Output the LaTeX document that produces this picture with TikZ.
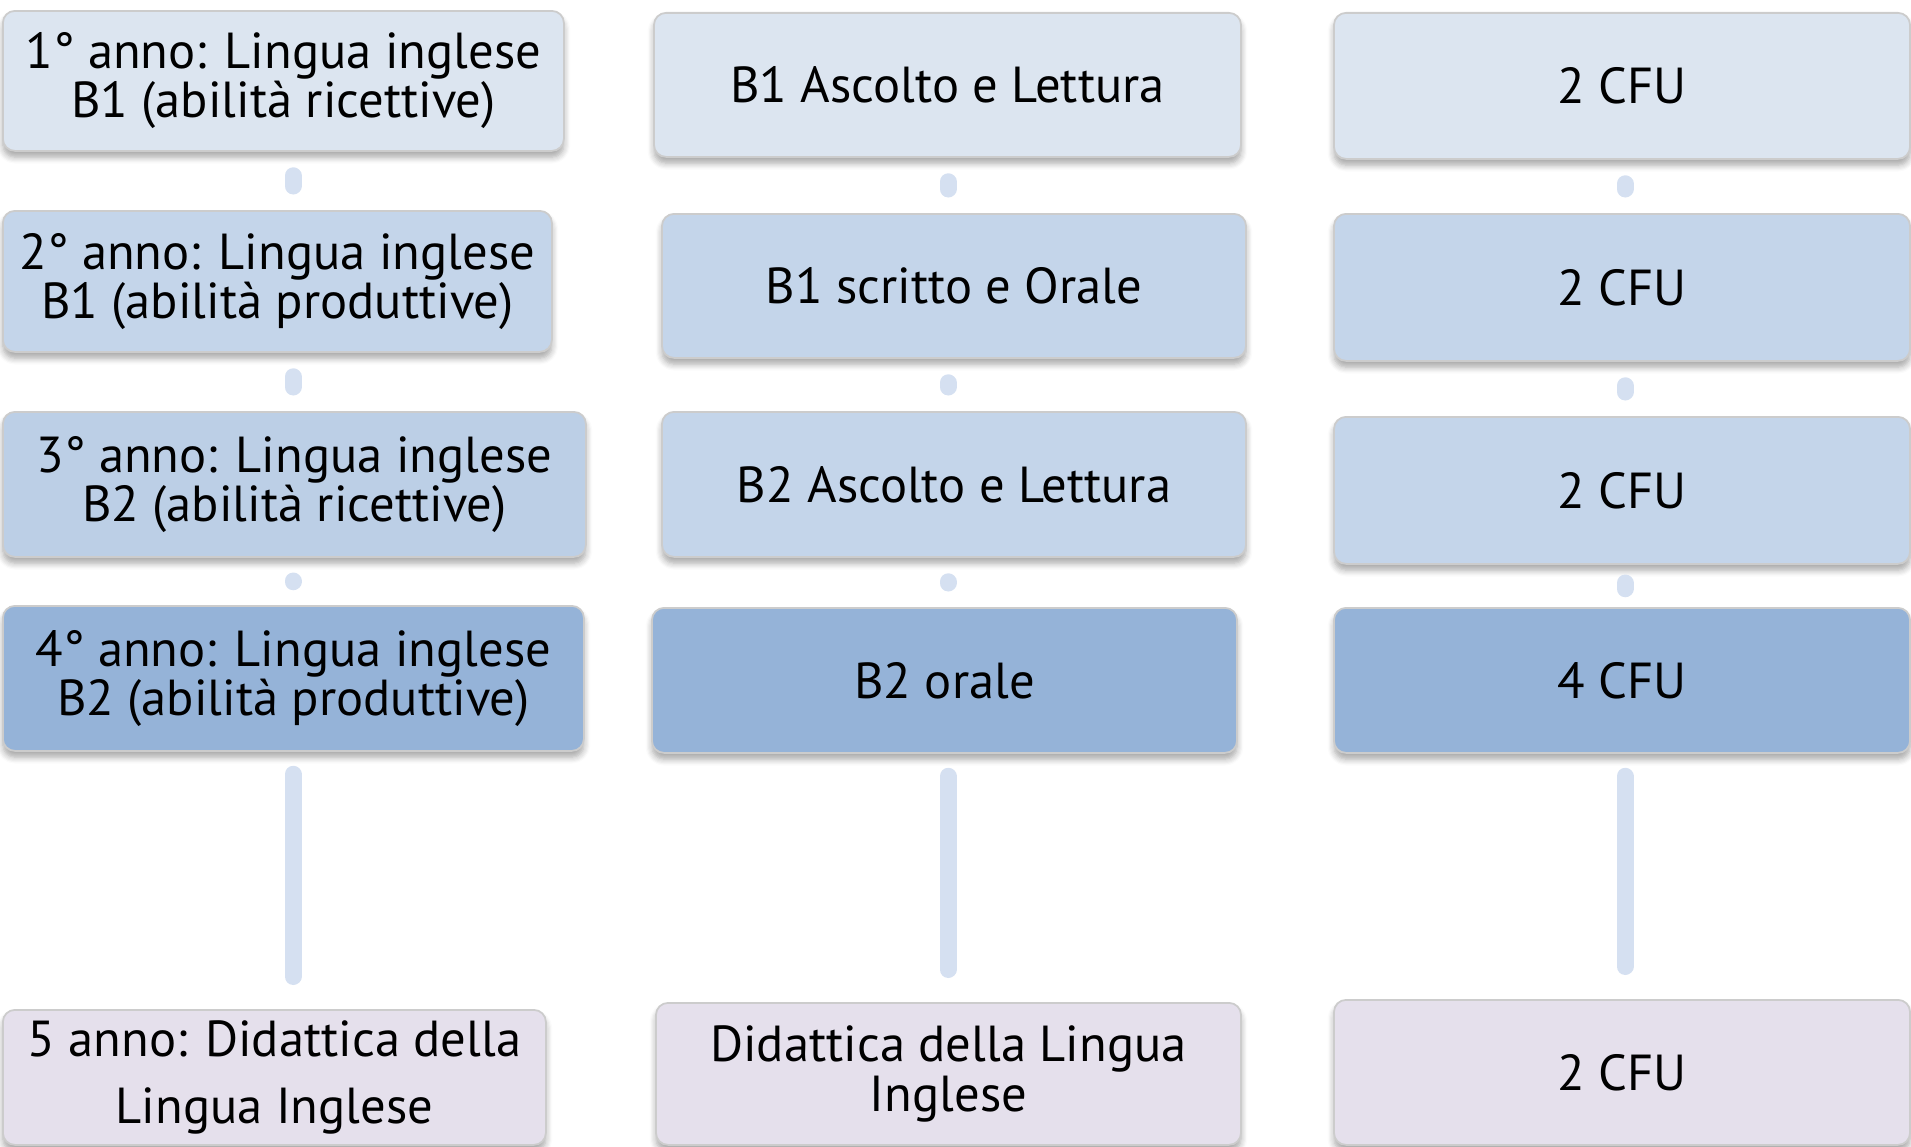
\documentclass[tikz,border=0pt]{standalone}
\usepackage{fontspec}
\setmainfont{PT Sans}
\usetikzlibrary{positioning, shadows, shadows.blur}
\definecolor{rowA}{HTML}{DCE5F0}
\definecolor{rowB}{HTML}{C4D5EA}
\definecolor{rowC}{HTML}{BCCFE6}
\definecolor{rowD}{HTML}{95B3D8}
\definecolor{rowE}{HTML}{E5E0EC}
\definecolor{link}{HTML}{D5E0F1}
\tikzstyle{box} = [draw=gray!40, line width=0.5pt, rectangle, rounded corners=0.12cm, align=center, inner sep=0pt, font=\fontsize{14.4}{14}\selectfont, blur shadow={shadow blur steps=6, shadow xshift=0pt, shadow yshift=-1.8pt, shadow blur radius=1.8pt, shadow opacity=35}]
\tikzstyle{line} = [draw=link, line width=0.17cm, line cap=round, shorten <=0.24cm, shorten >=0.24cm]
\tikzstyle{longline} = [draw=link, line width=0.17cm, line cap=round, shorten <=0.225cm, shorten >=0.325cm]
\begin{document}
\begin{tikzpicture}
	\useasboundingbox (0,0) rectangle (19.11,-11.46);
	\coordinate (lx) at (2.93,0);
	\coordinate (mx) at (9.48,0);
	\coordinate (rx) at (16.25,0);

	\node [box, fill=rowA, anchor=north west, minimum width=5.61cm, minimum height=1.40cm] (L1) at (0.02,-0.10) {1° anno: Lingua inglese\\B1 (abilità ricettive)};
	\node [box, fill=rowB, anchor=north west, minimum width=5.49cm, minimum height=1.41cm] (L2) at (0.02,-2.10) {2° anno: Lingua inglese\\B1 (abilità produttive)};
	\node [box, fill=rowC, anchor=north west, minimum width=5.83cm, minimum height=1.45cm] (L3) at (0.02,-4.11) {3° anno: Lingua inglese\\B2 (abilità ricettive)};
	\node [box, fill=rowD, anchor=north west, minimum width=5.81cm, minimum height=1.45cm] (L4) at (0.02,-6.05) {4° anno: Lingua inglese\\B2 (abilità produttive)};
	\node [box, fill=rowE, anchor=north west, minimum width=5.43cm, minimum height=1.35cm, font=\fontsize{14.4}{19}\selectfont] (L5) at (0.02,-10.09) {5 anno: Didattica della\\Lingua Inglese};

	\node [box, fill=rowA, anchor=north, minimum width=5.87cm, minimum height=1.44cm] (M1) at (9.475,-0.12) {B1 Ascolto e Lettura};
	\node [box, fill=rowB, anchor=north, minimum width=5.84cm, minimum height=1.44cm] (M2) at (9.54,-2.13) {B1 scritto e Orale};
	\node [box, fill=rowB, anchor=north, minimum width=5.84cm, minimum height=1.45cm] (M3) at (9.54,-4.11) {B2 Ascolto e Lettura};
	\node [box, fill=rowD, anchor=north, minimum width=5.85cm, minimum height=1.45cm] (M4) at (9.445,-6.07) {B2 orale};
	\node [box, fill=rowE, anchor=north, minimum width=5.85cm, minimum height=1.42cm] (M5) at (9.485,-10.02) {Didattica della Lingua\\Inglese};

	\node [box, fill=rowA, anchor=north, minimum width=5.76cm, minimum height=1.46cm] (R1) at (16.22,-0.12) {2 CFU};
	\node [box, fill=rowB, anchor=north, minimum width=5.76cm, minimum height=1.47cm] (R2) at (16.22,-2.13) {2 CFU};
	\node [box, fill=rowB, anchor=north, minimum width=5.76cm, minimum height=1.47cm] (R3) at (16.22,-4.16) {2 CFU};
	\node [box, fill=rowD, anchor=north, minimum width=5.76cm, minimum height=1.45cm] (R4) at (16.22,-6.07) {4 CFU};
	\node [box, fill=rowE, anchor=north, minimum width=5.76cm, minimum height=1.45cm] (R5) at (16.22,-9.99) {2 CFU};

	\path [line] (L1.south -| lx) -- (L2.north -| lx);
	\path [line] (L2.south -| lx) -- (L3.north -| lx);
	\path [line] (L3.south -| lx) -- (L4.north -| lx);
	\path [longline] (L4.south -| lx) -- (L5.north -| lx);

	\path [line] (M1.south -| mx) -- (M2.north -| mx);
	\path [line] (M2.south -| mx) -- (M3.north -| mx);
	\path [line] (M3.south -| mx) -- (M4.north -| mx);
	\path [longline] (M4.south -| mx) -- (M5.north -| mx);

	\path [line] (R1.south -| rx) -- (R2.north -| rx);
	\path [line] (R2.south -| rx) -- (R3.north -| rx);
	\path [line] (R3.south -| rx) -- (R4.north -| rx);
	\path [longline] (R4.south -| rx) -- (R5.north -| rx);
\end{tikzpicture}
\end{document}
